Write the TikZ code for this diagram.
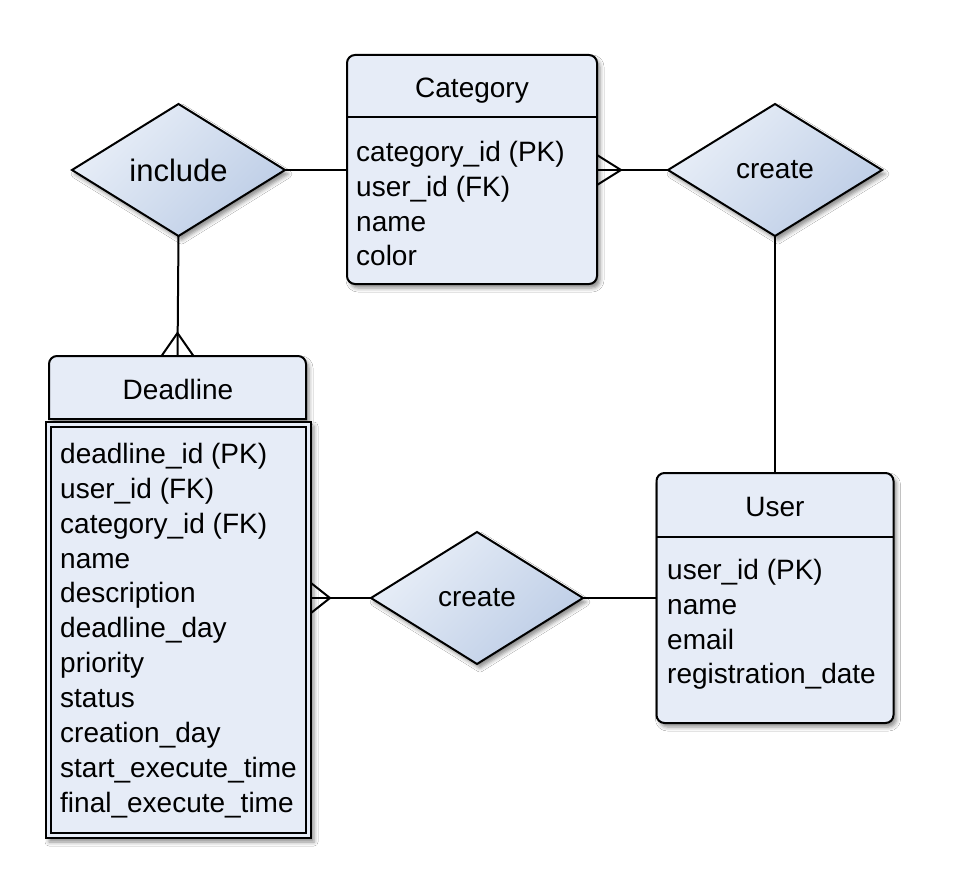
\documentclass[tikz,border=0pt]{standalone}
\usepackage{fontspec}
\setmainfont{Liberation Sans}
\usetikzlibrary{shapes.geometric,shadows.blur,calc}
\definecolor{boxfill}{HTML}{E6ECF7}
\definecolor{dmlight}{HTML}{E9EFF8}
\definecolor{dmdark}{HTML}{BDCDE6}
\begin{document}
\begin{tikzpicture}[x=1pt,y=-1pt,
  shad/.style={blur shadow={shadow xshift=3pt,shadow yshift=-4pt,shadow blur radius=4pt,shadow opacity=45}},
  ent/.style={draw,line width=2pt,fill=boxfill,rounded corners=8pt,inner sep=0pt,outer sep=0pt,shad},
  plainbox/.style={draw,line width=2pt,fill=boxfill,inner sep=0pt,outer sep=0pt},
  rel/.style={diamond,draw,line width=2pt,inner sep=0pt,outer sep=0pt,aspect=1.6,
    top color=dmlight,bottom color=dmdark,shading angle=45,shad,
    font=\fontsize{28}{28}\selectfont},
  attr/.style={anchor=base west,inner sep=0pt,font=\fontsize{28}{28}\selectfont},
  ttl/.style={anchor=base,inner sep=0pt,font=\fontsize{28}{28}\selectfont},
  conn/.style={line width=2pt},
]
\useasboundingbox[fill=white] (0,0) rectangle (962,872);

% ---------- Category ----------
\node[ent,minimum width=250pt,minimum height=229pt] (cat) at (472,169.5) {};
\draw[conn] (cat.west |- 0,117) -- (cat.east |- 0,117);
\node[ttl] (catt) at (472,97.5) {Category};
\node[attr] (cata1) at (356,161.5) {category\_id (PK)};
\node[attr] (cata2) at (356,196.3) {user\_id (FK)};
\node[attr] (cata3) at (356,231.1) {name};
\node[attr] (cata4) at (356,265.9) {color};

% ---------- User ----------
\node[ent,minimum width=237pt,minimum height=250pt] (usr) at (775,598) {};
\draw[conn] (usr.west |- 0,537) -- (usr.east |- 0,537);
\node[ttl] (usrt) at (775,516) {User};
\node[attr] (usra1) at (667,579.5) {user\_id (PK)};
\node[attr] (usra2) at (667,614.3) {name};
\node[attr] (usra3) at (667,649.1) {email};
\node[attr] (usra4) at (667,683.9) {registration\_date};

% ---------- Deadline ----------
\node[minimum width=257pt,minimum height=63pt,inner sep=0pt,outer sep=0pt] (dlh) at (177.5,387.5) {};
\path[draw,line width=2pt,fill=boxfill,shad] (dlh.south west) [rounded corners=8pt] -- (dlh.north west) -- (dlh.north east) [sharp corners] -- (dlh.south east) -- cycle;
\node[ttl] (dlt) at (178,399) {Deadline};
\node[plainbox,shad,minimum width=265pt,minimum height=416pt] (dlb) at (178.5,630) {};
\node[plainbox,minimum width=255pt,minimum height=406pt] (dlbi) at (178.5,630) {};
\foreach \t [count=\i from 0] in {deadline\_id (PK),user\_id (FK),category\_id (FK),name,description,deadline\_day,priority,status,creation\_day,start\_execute\_time,final\_execute\_time}
  \node[attr] (dla\i) at (60,{463.5+34.85*\i}) {\t};

% ---------- Relationships ----------
\node[rel,minimum width=213pt,minimum height=132pt,font=\fontsize{31}{31}\selectfont] (inc) at (178.5,170) {include};
\node[rel,minimum width=214pt,minimum height=132pt] (crt1) at (775,170) {create};
\node[rel,minimum width=212pt,minimum height=132pt] (crt2) at (477,598) {create};

% ---------- Connectors ----------
\draw[conn] (inc.east) -- (cat.west |- inc.east);
\draw[conn] (crt1.west) -- (cat.east |- crt1.west);
\coordinate (cf1) at ($(cat.east |- crt1.west)+(24,0)$);
\draw[conn] ($(cat.east |- crt1.west)+(0,-15)$) -- (cf1) -- ($(cat.east |- crt1.west)+(0,15)$);

\draw[conn] (inc.south) -- (dlh.north);
\coordinate (cf2) at ($(dlh.north)+(0,-23)$);
\draw[conn] ($(dlh.north)+(-16,0)$) -- (cf2) -- ($(dlh.north)+(16,0)$);

\draw[conn] (crt1.south) -- (usr.north);
\draw[conn] (crt2.east) -- (usr.west |- crt2.east);

\draw[conn] (crt2.west) -- (dlb.east |- crt2.west);
\coordinate (cf3) at ($(dlb.east |- crt2.west)+(19,0)$);
\draw[conn] ($(dlb.east |- crt2.west)+(0,-15)$) -- (cf3) -- ($(dlb.east |- crt2.west)+(0,15)$);
\end{tikzpicture}
\end{document}
